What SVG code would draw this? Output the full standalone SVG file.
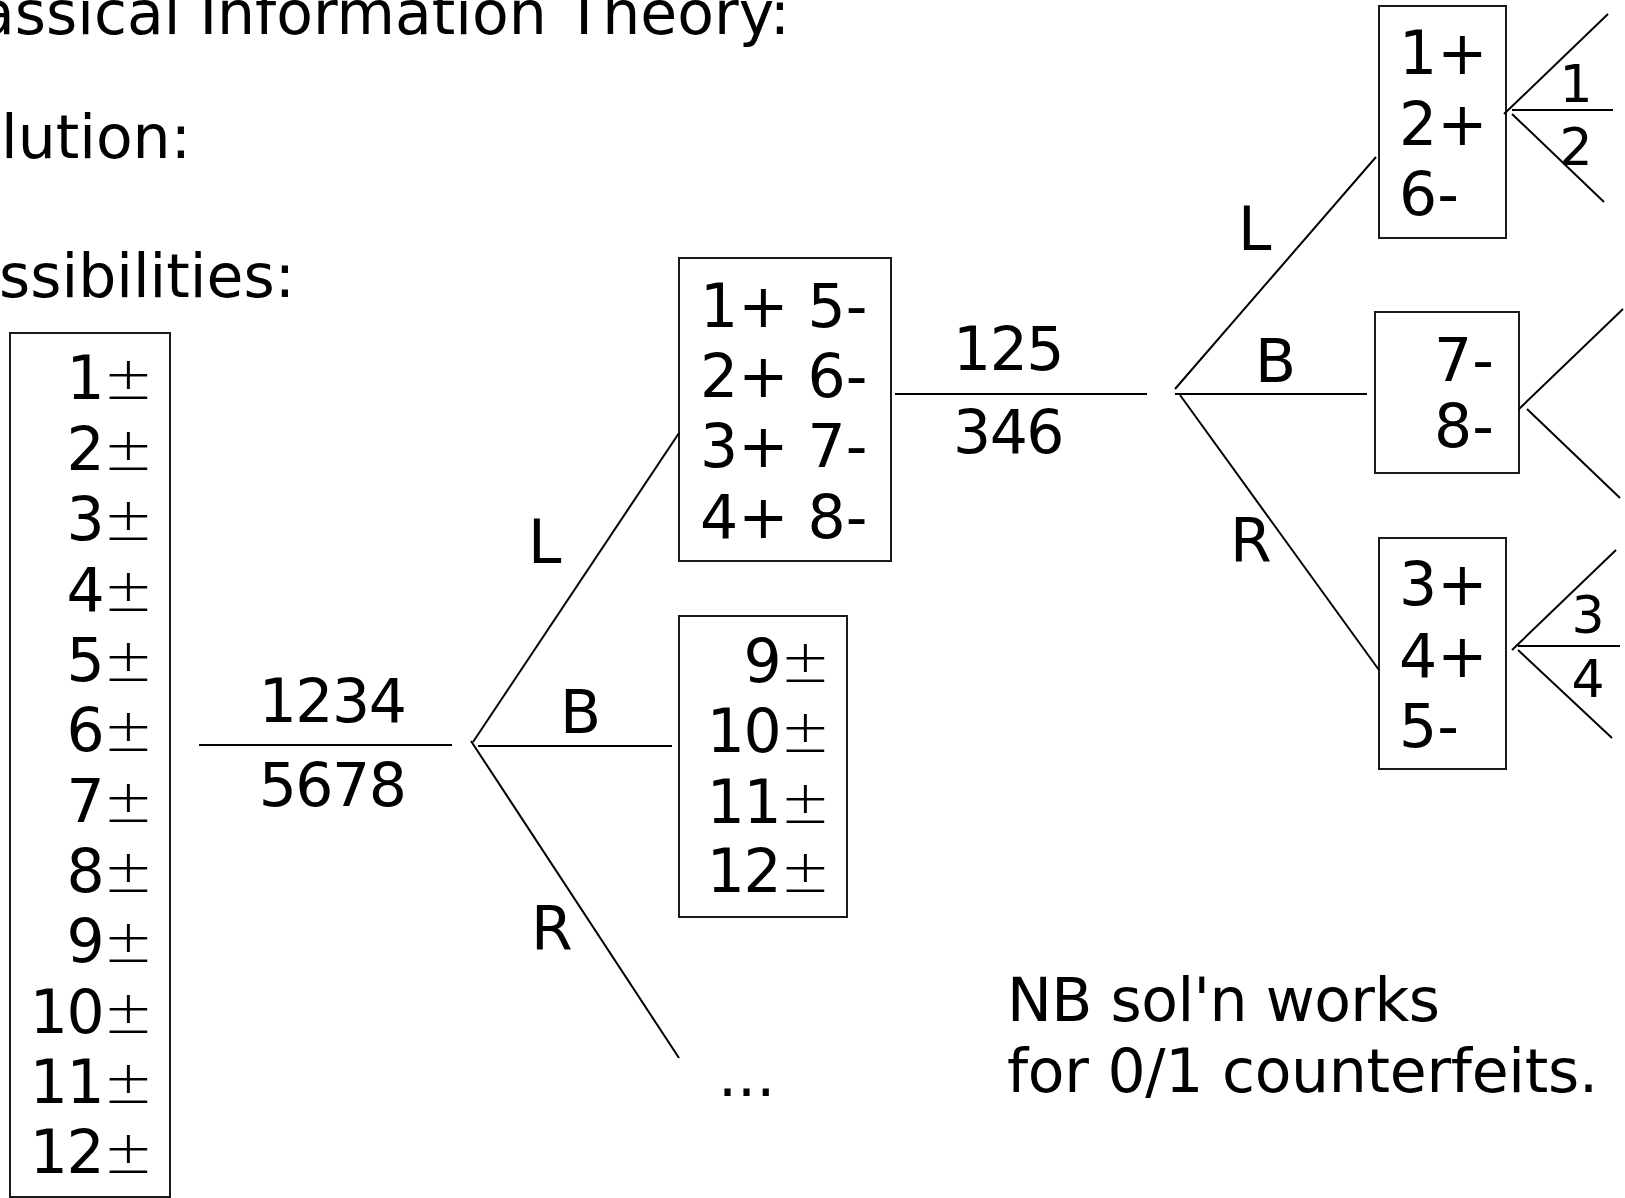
<svg xmlns="http://www.w3.org/2000/svg" width="1625" height="1198" viewBox="0 0 1625 1198">
  <style>
    text { font-family: "DejaVu Sans", Verdana, sans-serif; font-size: 60px; fill: #000; }
    .small { font-size: 52px; }
    .pm { font-weight: 200; }
    .tight { letter-spacing: -1.5px; }
    .box { fill: none; stroke: #1a1a1a; stroke-width: 2; }
    .edge { stroke: #000; stroke-width: 2; fill: none; }
    .mid { text-anchor: middle; }
    .end { text-anchor: end; }
  </style>
  <rect width="1625" height="1198" fill="#fff"/>

  <!-- slide headings, partly running off the left edge -->
  <g id="headings">
    <text x="-22" y="34" textLength="812" lengthAdjust="spacing">assical Information Theory:</text>
    <text x="1" y="158">lution:</text>
    <text x="-1" y="297">ssibilities:</text>
  </g>

  <!-- all twelve coins, each possibly heavy or light -->
  <g id="all-coins">
    <rect class="box" x="10" y="333" width="160" height="864"/>
    <text class="end tight" x="152" y="399">1<tspan class="pm">±</tspan></text>
    <text class="end tight" x="152" y="470">2<tspan class="pm">±</tspan></text>
    <text class="end tight" x="152" y="540">3<tspan class="pm">±</tspan></text>
    <text class="end tight" x="152" y="611">4<tspan class="pm">±</tspan></text>
    <text class="end tight" x="152" y="681">5<tspan class="pm">±</tspan></text>
    <text class="end tight" x="152" y="751">6<tspan class="pm">±</tspan></text>
    <text class="end tight" x="152" y="822">7<tspan class="pm">±</tspan></text>
    <text class="end tight" x="152" y="892">8<tspan class="pm">±</tspan></text>
    <text class="end tight" x="152" y="962">9<tspan class="pm">±</tspan></text>
    <text class="end tight" x="152" y="1033">10<tspan class="pm">±</tspan></text>
    <text class="end tight" x="152" y="1103">11<tspan class="pm">±</tspan></text>
    <text class="end tight" x="152" y="1173">12<tspan class="pm">±</tspan></text>
  </g>

  <!-- first weighing: 1234 against 5678 -->
  <g id="weighing-1">
    <text class="mid tight" x="332" y="722">1234</text>
    <text class="mid tight" x="332" y="806">5678</text>
  </g>

  <g id="label-L1"><text x="528" y="563">L</text></g>
  <g id="label-B1"><text x="560" y="733">B</text></g>
  <g id="label-R1"><text x="531" y="950">R</text></g>

  <g id="left-heavy-1">
    <rect class="box" x="679" y="258" width="212" height="303"/>
    <text x="700" y="327" xml:space="preserve">1+ 5-</text>
    <text x="700" y="397" xml:space="preserve">2+ 6-</text>
    <text x="700" y="467" xml:space="preserve">3+ 7-</text>
    <text x="700" y="538" xml:space="preserve">4+ 8-</text>
  </g>

  <g id="balanced-1">
    <rect class="box" x="679" y="616" width="168" height="301"/>
    <text class="end tight" x="829" y="682">9<tspan class="pm">±</tspan></text>
    <text class="end tight" x="829" y="752">10<tspan class="pm">±</tspan></text>
    <text class="end tight" x="829" y="823">11<tspan class="pm">±</tspan></text>
    <text class="end tight" x="829" y="892">12<tspan class="pm">±</tspan></text>
  </g>

  <g id="right-heavy-1"><text x="718" y="1096">...</text></g>

  <!-- second weighing: 125 against 346 -->
  <g id="weighing-2">
    <text class="mid tight" x="1008" y="370">125</text>
    <text class="mid tight" x="1008" y="453">346</text>
  </g>

  <g id="label-L2"><text x="1238" y="250">L</text></g>
  <g id="label-B2"><text x="1255" y="382">B</text></g>
  <g id="label-R2"><text x="1230" y="562">R</text></g>

  <g id="left-heavy-2">
    <rect class="box" x="1379" y="6" width="127" height="232"/>
    <text x="1399" y="74">1+</text>
    <text x="1399" y="145">2+</text>
    <text x="1399" y="215">6-</text>
  </g>

  <g id="balanced-2">
    <rect class="box" x="1375" y="312" width="144" height="161"/>
    <text x="1434" y="381">7-</text>
    <text x="1434" y="447">8-</text>
  </g>

  <g id="right-heavy-2">
    <rect class="box" x="1379" y="538" width="127" height="231"/>
    <text x="1399" y="605">3+</text>
    <text x="1399" y="677">4+</text>
    <text x="1399" y="747">5-</text>
  </g>

  <!-- third weighings -->
  <g id="weighing-3a">
    <text class="small mid" x="1576" y="102">1</text>
    <text class="small mid" x="1576" y="165">2</text>
  </g>
  <g id="weighing-3c">
    <text class="small mid" x="1588" y="633">3</text>
    <text class="small mid" x="1588" y="697">4</text>
  </g>

  <g id="note">
    <text x="1007" y="1021" textLength="433" lengthAdjust="spacing">NB sol'n works</text>
    <text x="1007" y="1092" textLength="591" lengthAdjust="spacing">for 0/1 counterfeits.</text>
  </g>

  <!-- connectors: fraction bars and outcome branches -->
  <g id="connectors" class="edge">
    <line x1="199" y1="745" x2="452" y2="745"/>
    <line x1="473" y1="742" x2="679" y2="433"/>
    <line x1="478" y1="746" x2="672" y2="746"/>
    <line x1="471" y1="741" x2="679" y2="1058"/>

    <line x1="895" y1="394" x2="1147" y2="394"/>
    <line x1="1175" y1="389" x2="1376" y2="157"/>
    <line x1="1175" y1="394" x2="1367" y2="394"/>
    <line x1="1180" y1="395" x2="1379" y2="670"/>

    <line x1="1504" y1="114" x2="1608" y2="14"/>
    <line x1="1512" y1="110" x2="1613" y2="110"/>
    <line x1="1512" y1="114" x2="1604" y2="202"/>

    <line x1="1519" y1="409" x2="1623" y2="309"/>
    <line x1="1527" y1="409" x2="1620" y2="498"/>

    <line x1="1512" y1="650" x2="1616" y2="550"/>
    <line x1="1518" y1="646" x2="1620" y2="646"/>
    <line x1="1518" y1="650" x2="1612" y2="738"/>
  </g>
</svg>
